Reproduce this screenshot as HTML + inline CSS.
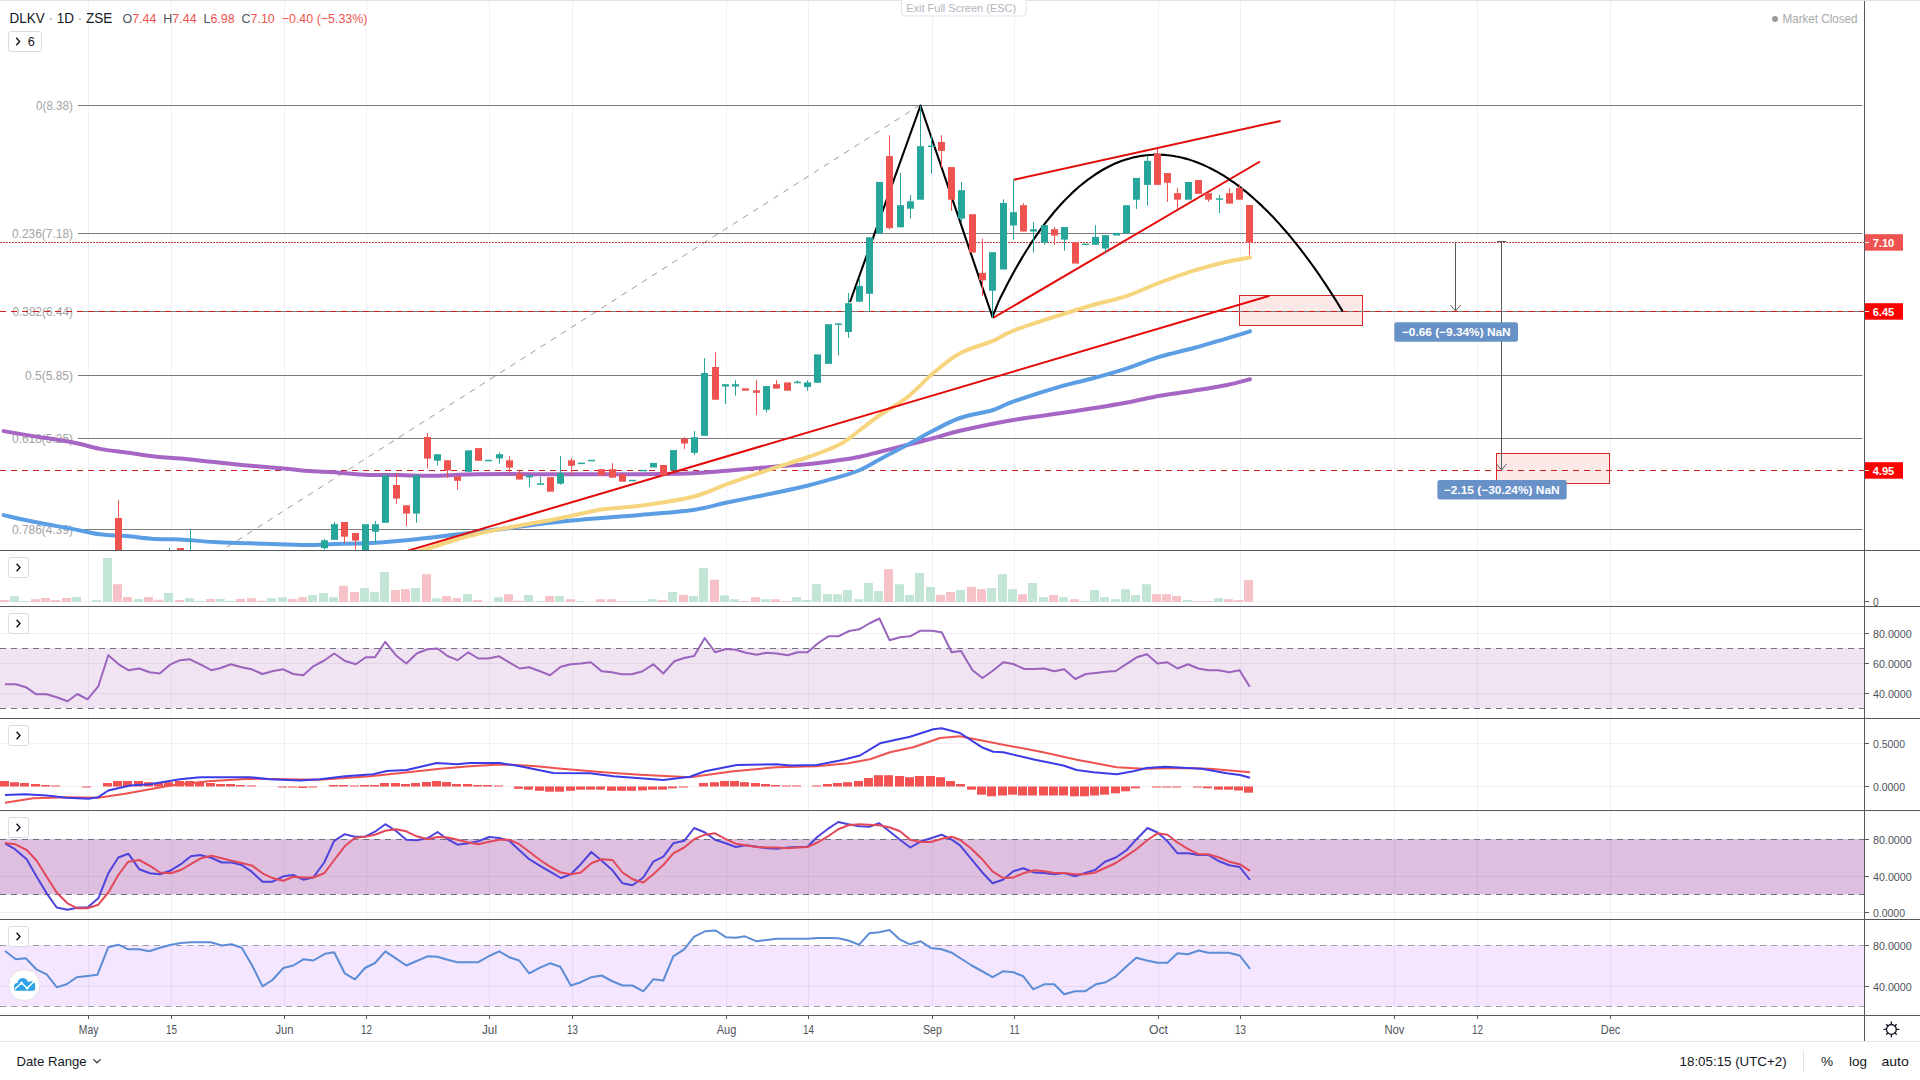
<!DOCTYPE html>
<html><head><meta charset="utf-8"><title>DLKV chart</title>
<style>html,body{margin:0;padding:0;background:#fff;width:1920px;height:1080px;overflow:hidden}</style>
</head><body>
<svg width="1920" height="1080" viewBox="0 0 1920 1080" style="display:block;font-family:'Liberation Sans', sans-serif">
<defs>
<clipPath id="cMain"><rect x="0" y="1" width="1864" height="549"/></clipPath>
</defs>
<rect x="0" y="0" width="1920" height="1080" fill="#fff"/>
<rect x="0" y="648" width="1864" height="60.5" fill="#f0e4f3"/>
<rect x="0" y="839" width="1864" height="55.5" fill="#dfbfdf"/>
<rect x="0" y="945" width="1864" height="61.5" fill="#f4e6fe"/>
<line x1="88.5" y1="1" x2="88.5" y2="1015" stroke="rgba(50,70,140,0.075)" stroke-width="1"/>
<line x1="171.5" y1="1" x2="171.5" y2="1015" stroke="rgba(50,70,140,0.075)" stroke-width="1"/>
<line x1="284.5" y1="1" x2="284.5" y2="1015" stroke="rgba(50,70,140,0.075)" stroke-width="1"/>
<line x1="366.5" y1="1" x2="366.5" y2="1015" stroke="rgba(50,70,140,0.075)" stroke-width="1"/>
<line x1="489.5" y1="1" x2="489.5" y2="1015" stroke="rgba(50,70,140,0.075)" stroke-width="1"/>
<line x1="572.5" y1="1" x2="572.5" y2="1015" stroke="rgba(50,70,140,0.075)" stroke-width="1"/>
<line x1="726.5" y1="1" x2="726.5" y2="1015" stroke="rgba(50,70,140,0.075)" stroke-width="1"/>
<line x1="808.5" y1="1" x2="808.5" y2="1015" stroke="rgba(50,70,140,0.075)" stroke-width="1"/>
<line x1="932.5" y1="1" x2="932.5" y2="1015" stroke="rgba(50,70,140,0.075)" stroke-width="1"/>
<line x1="1014.5" y1="1" x2="1014.5" y2="1015" stroke="rgba(50,70,140,0.075)" stroke-width="1"/>
<line x1="1158.5" y1="1" x2="1158.5" y2="1015" stroke="rgba(50,70,140,0.075)" stroke-width="1"/>
<line x1="1240.5" y1="1" x2="1240.5" y2="1015" stroke="rgba(50,70,140,0.075)" stroke-width="1"/>
<line x1="1394.5" y1="1" x2="1394.5" y2="1015" stroke="rgba(50,70,140,0.075)" stroke-width="1"/>
<line x1="1477.5" y1="1" x2="1477.5" y2="1015" stroke="rgba(50,70,140,0.075)" stroke-width="1"/>
<line x1="1610.5" y1="1" x2="1610.5" y2="1015" stroke="rgba(50,70,140,0.075)" stroke-width="1"/>
<line x1="0.0" y1="601.5" x2="1864.0" y2="601.5" stroke="rgba(42,46,57,0.07)" stroke-width="1.00"/>
<line x1="0.0" y1="633.5" x2="1864.0" y2="633.5" stroke="rgba(42,46,57,0.07)" stroke-width="1.00"/>
<line x1="0.0" y1="663.5" x2="1864.0" y2="663.5" stroke="rgba(42,46,57,0.07)" stroke-width="1.00"/>
<line x1="0.0" y1="693.5" x2="1864.0" y2="693.5" stroke="rgba(42,46,57,0.07)" stroke-width="1.00"/>
<line x1="0.0" y1="743.5" x2="1864.0" y2="743.5" stroke="rgba(42,46,57,0.07)" stroke-width="1.00"/>
<line x1="0.0" y1="786.5" x2="1864.0" y2="786.5" stroke="rgba(42,46,57,0.07)" stroke-width="1.00"/>
<line x1="0.0" y1="876.5" x2="1864.0" y2="876.5" stroke="rgba(42,46,57,0.07)" stroke-width="1.00"/>
<line x1="0.0" y1="912.5" x2="1864.0" y2="912.5" stroke="rgba(42,46,57,0.07)" stroke-width="1.00"/>
<line x1="0.0" y1="986.5" x2="1864.0" y2="986.5" stroke="rgba(42,46,57,0.07)" stroke-width="1.00"/>
<line x1="0.0" y1="648.5" x2="1864.0" y2="648.5" stroke="#6f7280" stroke-width="1.00" stroke-dasharray="6,5"/>
<line x1="0.0" y1="708.5" x2="1864.0" y2="708.5" stroke="#6f7280" stroke-width="1.00" stroke-dasharray="6,5"/>
<line x1="0.0" y1="839.5" x2="1864.0" y2="839.5" stroke="#6f7280" stroke-width="1.00" stroke-dasharray="6,5"/>
<line x1="0.0" y1="894.5" x2="1864.0" y2="894.5" stroke="#6f7280" stroke-width="1.00" stroke-dasharray="6,5"/>
<line x1="0.0" y1="945.5" x2="1864.0" y2="945.5" stroke="#9a9da6" stroke-width="1.00" stroke-dasharray="6,5"/>
<line x1="0.0" y1="1006.5" x2="1864.0" y2="1006.5" stroke="#9a9da6" stroke-width="1.00" stroke-dasharray="6,5"/>
<g clip-path="url(#cMain)">
<line x1="78.0" y1="105.5" x2="1862.5" y2="105.5" stroke="#7b7b7b" stroke-width="1.00"/>
<line x1="78.0" y1="233.5" x2="1862.5" y2="233.5" stroke="#7b7b7b" stroke-width="1.00"/>
<line x1="78.0" y1="311.5" x2="1862.5" y2="311.5" stroke="#7b7b7b" stroke-width="1.00"/>
<line x1="78.0" y1="375.5" x2="1862.5" y2="375.5" stroke="#7b7b7b" stroke-width="1.00"/>
<line x1="78.0" y1="438.5" x2="1862.5" y2="438.5" stroke="#7b7b7b" stroke-width="1.00"/>
<line x1="78.0" y1="529.5" x2="1862.5" y2="529.5" stroke="#7b7b7b" stroke-width="1.00"/>
<text x="36.0" y="110.0" font-size="12.0" fill="#a3a3a3" textLength="37.0" lengthAdjust="spacingAndGlyphs">0(8.38)</text>
<text x="12.0" y="238.0" font-size="12.0" fill="#a3a3a3" textLength="61.0" lengthAdjust="spacingAndGlyphs">0.236(7.18)</text>
<text x="12.5" y="316.0" font-size="12.0" fill="#a3a3a3" textLength="60.5" lengthAdjust="spacingAndGlyphs">0.382(6.44)</text>
<text x="25.0" y="380.0" font-size="12.0" fill="#a3a3a3" textLength="48.0" lengthAdjust="spacingAndGlyphs">0.5(5.85)</text>
<text x="12.0" y="443.0" font-size="12.0" fill="#a3a3a3" textLength="61.0" lengthAdjust="spacingAndGlyphs">0.618(5.25)</text>
<text x="12.0" y="534.0" font-size="12.0" fill="#a3a3a3" textLength="61.0" lengthAdjust="spacingAndGlyphs">0.786(4.39)</text>
<line x1="920" y1="105" x2="222" y2="550.3" stroke="#9a9a9a" stroke-width="1" stroke-dasharray="6,6"/>
<rect x="1239.5" y="295.5" width="123" height="30" fill="#fde8e8" stroke="#d42a2a" stroke-width="1"/>
<rect x="1496.5" y="453.5" width="113" height="30" fill="#fde8e8" stroke="#d42a2a" stroke-width="1"/>
<line x1="1239.0" y1="311.5" x2="1363.0" y2="311.5" stroke="#7b7b7b" stroke-width="1.00"/>
<line x1="0.0" y1="311.5" x2="1864.0" y2="311.5" stroke="#cf2020" stroke-width="1.00" stroke-dasharray="6,5"/>
<line x1="0.0" y1="470.5" x2="1864.0" y2="470.5" stroke="#cf2020" stroke-width="1.00" stroke-dasharray="6,5"/>
<line x1="0.0" y1="242.5" x2="1864.0" y2="242.5" stroke="#cc3c3c" stroke-width="1.00" stroke-dasharray="2,1"/>
<path d="M3.6,431.1 C8.0,431.9 18.6,433.7 30.0,435.6 C41.4,437.5 60.6,440.1 72.2,442.3 C83.9,444.5 90.9,447.2 99.9,448.9 C108.9,450.6 117.0,451.2 126.4,452.5 C135.8,453.8 147.4,455.7 156.4,456.7 C165.4,457.7 170.9,457.6 180.5,458.5 C190.1,459.4 202.5,460.9 214.1,462.1 C225.7,463.3 238.2,464.6 250.2,465.7 C262.2,466.8 276.3,467.8 286.3,468.7 C296.3,469.6 302.3,470.5 310.3,471.1 C318.3,471.7 325.4,471.7 334.4,472.3 C343.4,472.9 353.6,474.4 364.5,474.8 C375.4,475.2 389.1,474.8 400.0,475.0 C410.9,475.2 416.7,475.9 430.0,475.8 C443.3,475.7 458.3,474.5 480.0,474.2 C501.7,473.9 533.3,474.2 560.0,474.2 C586.7,474.2 617.8,474.3 640.0,474.2 C662.2,474.1 678.5,473.9 693.0,473.3 C707.5,472.7 713.7,471.9 727.0,470.8 C740.3,469.7 759.7,467.8 773.0,466.7 C786.3,465.6 795.8,465.3 807.0,464.2 C818.2,463.1 831.2,461.2 840.0,460.0 C848.8,458.8 853.3,458.1 860.0,456.7 C866.7,455.3 872.2,453.6 880.0,451.7 C887.8,449.8 898.2,447.2 907.0,445.0 C915.8,442.8 924.2,440.7 933.0,438.3 C941.8,435.9 946.7,433.9 960.0,430.8 C973.3,427.8 996.3,422.9 1013.0,420.0 C1029.7,417.1 1046.7,415.2 1060.0,413.3 C1073.3,411.4 1081.8,410.1 1093.0,408.3 C1104.2,406.5 1115.8,404.6 1127.0,402.5 C1138.2,400.4 1149.0,397.8 1160.0,395.8 C1171.0,393.9 1181.8,392.6 1193.0,390.8 C1204.2,389.0 1217.5,386.9 1227.0,385.0 C1236.5,383.1 1246.2,380.2 1250.0,379.2" fill="none" stroke="#a765c4" stroke-width="4" stroke-linejoin="round" stroke-linecap="round"/>
<path d="M3.6,515.1 C9.0,516.3 24.7,520.0 36.1,522.3 C47.5,524.6 61.6,526.9 72.2,528.9 C82.8,530.9 90.9,533.1 99.9,534.3 C108.9,535.5 117.0,535.3 126.4,536.1 C135.8,536.9 147.4,538.6 156.4,539.1 C165.4,539.6 170.9,538.9 180.5,539.4 C190.1,539.9 202.5,541.5 214.1,542.1 C225.7,542.8 238.2,542.9 250.2,543.3 C262.2,543.7 276.3,544.2 286.3,544.5 C296.3,544.8 302.3,545.2 310.3,545.1 C318.3,545.0 325.4,544.3 334.4,544.0 C343.4,543.7 353.6,543.8 364.5,543.3 C375.4,542.8 380.8,542.7 400.0,540.8 C419.2,538.9 453.3,534.9 480.0,531.7 C506.7,528.5 533.3,524.5 560.0,521.7 C586.7,518.9 617.8,517.0 640.0,515.0 C662.2,513.0 678.5,512.1 693.0,510.0 C707.5,507.9 713.7,505.3 727.0,502.5 C740.3,499.7 759.7,496.1 773.0,493.3 C786.3,490.5 795.8,488.6 807.0,485.8 C818.2,483.0 831.2,479.3 840.0,476.7 C848.8,474.1 853.3,472.9 860.0,470.0 C866.7,467.1 872.2,463.4 880.0,459.2 C887.8,455.0 898.2,449.7 907.0,445.0 C915.8,440.3 924.2,435.3 933.0,430.8 C941.8,426.3 950.0,421.5 960.0,418.0 C970.0,414.5 984.2,412.7 993.0,410.0 C1001.8,407.3 1001.8,405.6 1013.0,401.7 C1024.2,397.8 1046.7,390.6 1060.0,386.7 C1073.3,382.8 1081.8,381.4 1093.0,378.3 C1104.2,375.2 1115.8,371.9 1127.0,368.3 C1138.2,364.7 1149.0,360.0 1160.0,356.7 C1171.0,353.4 1181.8,351.4 1193.0,348.3 C1204.2,345.2 1217.5,341.1 1227.0,338.3 C1236.5,335.5 1246.2,332.5 1250.0,331.3" fill="none" stroke="#5b9ee3" stroke-width="4" stroke-linejoin="round" stroke-linecap="round"/>
<path d="M405.0,556.0 C408.1,555.0 410.8,553.8 423.3,550.0 C435.8,546.2 457.2,538.6 480.0,533.3 C502.8,528.0 540.0,522.2 560.0,518.3 C580.0,514.4 586.7,511.8 600.0,509.7 C613.3,507.6 624.5,508.0 640.0,505.8 C655.5,503.6 678.5,500.3 693.0,496.7 C707.5,493.1 713.7,488.9 727.0,484.2 C740.3,479.5 759.7,472.8 773.0,468.3 C786.3,463.9 795.8,461.5 807.0,457.5 C818.2,453.5 831.2,448.8 840.0,444.2 C848.8,439.6 853.3,434.9 860.0,430.0 C866.7,425.1 872.2,420.4 880.0,415.0 C887.8,409.6 898.2,404.4 907.0,397.5 C915.8,390.6 924.2,380.7 933.0,373.3 C941.8,365.9 950.0,358.7 960.0,353.3 C970.0,347.9 984.2,344.6 993.0,340.8 C1001.8,337.1 1001.8,335.1 1013.0,330.8 C1024.2,326.5 1046.7,319.3 1060.0,315.0 C1073.3,310.7 1081.8,308.2 1093.0,305.0 C1104.2,301.8 1115.8,299.6 1127.0,295.8 C1138.2,292.1 1149.0,286.7 1160.0,282.5 C1171.0,278.3 1181.8,274.3 1193.0,270.8 C1204.2,267.3 1217.5,263.9 1227.0,261.7 C1236.5,259.5 1246.2,258.2 1250.0,257.5" fill="none" stroke="#f7d57f" stroke-width="4" stroke-linejoin="round" stroke-linecap="round"/>
<line x1="380" y1="559" x2="1269.6" y2="295.8" stroke="#e30a0a" stroke-width="2"/>
<line x1="993" y1="318" x2="1260" y2="161.5" stroke="#e30a0a" stroke-width="2"/>
<line x1="1013.75" y1="179.8" x2="1280.6" y2="120.9" stroke="#e30a0a" stroke-width="2"/>
<polyline points="850,302 920.5,105.5 992.5,317" fill="none" stroke="#000" stroke-width="2.1" stroke-linejoin="round"/>
<path d="M992.5,317.0 C993.5,314.5 996.5,306.6 998.4,302.1 C1000.4,297.6 1002.4,293.9 1004.4,290.0 C1006.3,286.1 1008.3,282.3 1010.3,278.6 C1012.3,274.9 1014.2,271.3 1016.2,267.8 C1018.2,264.3 1020.2,260.9 1022.1,257.6 C1024.1,254.3 1026.1,251.1 1028.1,248.0 C1030.0,244.9 1032.0,241.8 1034.0,238.9 C1036.0,236.0 1037.9,233.2 1039.9,230.4 C1041.9,227.7 1043.9,225.0 1045.8,222.4 C1047.8,219.9 1049.8,217.4 1051.8,215.0 C1053.7,212.5 1055.7,210.2 1057.7,208.0 C1059.7,205.7 1061.6,203.6 1063.6,201.5 C1065.6,199.4 1067.6,197.4 1069.6,195.5 C1071.5,193.5 1073.5,191.7 1075.5,189.9 C1077.5,188.1 1079.4,186.4 1081.4,184.8 C1083.4,183.1 1085.4,181.6 1087.3,180.1 C1089.3,178.6 1091.3,177.2 1093.3,175.8 C1095.2,174.5 1097.2,173.2 1099.2,172.0 C1101.2,170.7 1103.1,169.6 1105.1,168.5 C1107.1,167.4 1109.1,166.4 1111.0,165.5 C1113.0,164.5 1115.0,163.6 1117.0,162.8 C1118.9,162.0 1120.9,161.2 1122.9,160.5 C1124.9,159.9 1126.8,159.2 1128.8,158.7 C1130.8,158.1 1132.8,157.6 1134.8,157.1 C1136.7,156.7 1138.7,156.3 1140.7,156.0 C1142.7,155.7 1144.6,155.4 1146.6,155.2 C1148.6,155.0 1150.6,154.8 1152.5,154.8 C1154.5,154.7 1156.5,154.6 1158.5,154.7 C1160.4,154.7 1162.4,154.8 1164.4,154.9 C1166.4,155.1 1168.3,155.3 1170.3,155.5 C1172.3,155.8 1174.3,156.1 1176.2,156.5 C1178.2,156.8 1180.2,157.3 1182.2,157.7 C1184.1,158.2 1186.1,158.8 1188.1,159.3 C1190.1,159.9 1192.0,160.6 1194.0,161.3 C1196.0,162.0 1198.0,162.7 1199.9,163.5 C1201.9,164.3 1203.9,165.2 1205.9,166.1 C1207.9,167.0 1209.8,168.0 1211.8,169.0 C1213.8,170.0 1215.8,171.1 1217.7,172.2 C1219.7,173.3 1221.7,174.5 1223.7,175.7 C1225.6,177.0 1227.6,178.2 1229.6,179.6 C1231.6,180.9 1233.5,182.3 1235.5,183.7 C1237.5,185.2 1239.5,186.6 1241.4,188.2 C1243.4,189.7 1245.4,191.3 1247.4,192.9 C1249.3,194.6 1251.3,196.3 1253.3,198.0 C1255.3,199.8 1257.2,201.6 1259.2,203.4 C1261.2,205.2 1263.2,207.1 1265.1,209.1 C1267.1,211.0 1269.1,213.0 1271.1,215.1 C1273.1,217.1 1275.0,219.2 1277.0,221.4 C1279.0,223.5 1281.0,225.7 1282.9,228.0 C1284.9,230.2 1286.9,232.5 1288.9,234.9 C1290.8,237.2 1292.8,239.6 1294.8,242.1 C1296.8,244.5 1298.7,247.0 1300.7,249.6 C1302.7,252.1 1304.7,254.7 1306.6,257.4 C1308.6,260.0 1310.6,262.7 1312.6,265.5 C1314.5,268.2 1316.5,271.0 1318.5,273.9 C1320.5,276.8 1322.4,279.7 1324.4,282.6 C1326.4,285.6 1328.4,288.6 1330.3,291.6 C1332.3,294.7 1334.3,297.8 1336.3,301.0 C1338.2,304.1 1341.2,309.0 1342.2,310.6" fill="none" stroke="#000" stroke-width="2.1" stroke-linecap="round"/>
<rect x="118.0" y="500.0" width="1" height="60.0" fill="#ef5350"/>
<rect x="115.0" y="518.0" width="7" height="42.0" fill="#ef5350"/>
<rect x="169.0" y="548.0" width="1" height="14.0" fill="#26a69a"/>
<rect x="166.0" y="560.0" width="7" height="2.0" fill="#26a69a"/>
<rect x="177.0" y="548.0" width="7" height="12.0" fill="#ef5350"/>
<rect x="190.0" y="529.7" width="1" height="32.3" fill="#26a69a"/>
<rect x="187.0" y="560.0" width="7" height="2.0" fill="#26a69a"/>
<rect x="324.0" y="538.7" width="1" height="10.9" fill="#26a69a"/>
<rect x="321.0" y="540.3" width="7" height="7.9" fill="#26a69a"/>
<rect x="334.0" y="521.8" width="1" height="18.1" fill="#26a69a"/>
<rect x="331.0" y="524.2" width="7" height="15.7" fill="#26a69a"/>
<rect x="344.0" y="522.0" width="1" height="21.3" fill="#ef5350"/>
<rect x="341.0" y="522.0" width="7" height="14.7" fill="#ef5350"/>
<rect x="355.0" y="533.0" width="1" height="16.6" fill="#ef5350"/>
<rect x="352.0" y="533.0" width="7" height="7.6" fill="#ef5350"/>
<rect x="362.0" y="524.2" width="7" height="35.8" fill="#26a69a"/>
<rect x="375.0" y="521.0" width="1" height="22.3" fill="#26a69a"/>
<rect x="372.0" y="524.2" width="7" height="7.5" fill="#26a69a"/>
<rect x="382.0" y="475.3" width="7" height="47.5" fill="#26a69a"/>
<rect x="396.0" y="473.2" width="1" height="30.6" fill="#ef5350"/>
<rect x="393.0" y="485.0" width="7" height="13.6" fill="#ef5350"/>
<rect x="406.0" y="505.3" width="1" height="20.7" fill="#ef5350"/>
<rect x="403.0" y="505.3" width="7" height="8.3" fill="#ef5350"/>
<rect x="416.0" y="475.3" width="1" height="47.5" fill="#26a69a"/>
<rect x="413.0" y="475.3" width="7" height="38.3" fill="#26a69a"/>
<rect x="427.0" y="433.0" width="1" height="35.3" fill="#ef5350"/>
<rect x="424.0" y="437.0" width="7" height="21.6" fill="#ef5350"/>
<rect x="437.0" y="454.2" width="1" height="11.4" fill="#26a69a"/>
<rect x="434.0" y="454.2" width="7" height="6.5" fill="#26a69a"/>
<rect x="447.0" y="460.3" width="1" height="17.5" fill="#ef5350"/>
<rect x="444.0" y="460.3" width="7" height="10.1" fill="#ef5350"/>
<rect x="457.0" y="476.4" width="1" height="13.5" fill="#ef5350"/>
<rect x="454.0" y="476.4" width="7" height="4.4" fill="#ef5350"/>
<rect x="465.0" y="450.3" width="7" height="21.5" fill="#26a69a"/>
<rect x="475.0" y="448.1" width="7" height="12.7" fill="#ef5350"/>
<rect x="485.0" y="459.8" width="7" height="1.5" fill="#26a69a"/>
<rect x="499.0" y="452.3" width="1" height="11.3" fill="#26a69a"/>
<rect x="496.0" y="454.2" width="7" height="4.2" fill="#26a69a"/>
<rect x="509.0" y="456.1" width="1" height="16.9" fill="#ef5350"/>
<rect x="506.0" y="460.3" width="7" height="7.3" fill="#ef5350"/>
<rect x="519.0" y="470.6" width="1" height="8.9" fill="#ef5350"/>
<rect x="516.0" y="473.4" width="7" height="6.1" fill="#ef5350"/>
<rect x="529.0" y="475.3" width="1" height="11.7" fill="#26a69a"/>
<rect x="526.0" y="475.3" width="7" height="2.1" fill="#26a69a"/>
<rect x="540.0" y="476.7" width="1" height="8.0" fill="#26a69a"/>
<rect x="537.0" y="483.3" width="7" height="1.5" fill="#26a69a"/>
<rect x="547.0" y="477.2" width="7" height="14.5" fill="#ef5350"/>
<rect x="560.0" y="456.1" width="1" height="28.6" fill="#26a69a"/>
<rect x="557.0" y="473.0" width="7" height="10.7" fill="#26a69a"/>
<rect x="571.0" y="458.0" width="1" height="17.3" fill="#ef5350"/>
<rect x="568.0" y="460.3" width="7" height="5.4" fill="#ef5350"/>
<rect x="578.0" y="462.6" width="7" height="1.5" fill="#26a69a"/>
<rect x="588.0" y="459.8" width="7" height="1.5" fill="#26a69a"/>
<rect x="598.0" y="469.2" width="7" height="6.3" fill="#ef5350"/>
<rect x="612.0" y="463.1" width="1" height="14.6" fill="#ef5350"/>
<rect x="609.0" y="469.2" width="7" height="8.5" fill="#ef5350"/>
<rect x="619.0" y="474.2" width="7" height="7.5" fill="#ef5350"/>
<rect x="629.0" y="479.8" width="7" height="1.5" fill="#26a69a"/>
<rect x="640.0" y="469.8" width="7" height="1.5" fill="#26a69a"/>
<rect x="650.0" y="462.9" width="7" height="4.6" fill="#26a69a"/>
<rect x="660.0" y="465.0" width="7" height="10.4" fill="#ef5350"/>
<rect x="670.0" y="450.1" width="7" height="20.2" fill="#26a69a"/>
<rect x="684.0" y="437.2" width="1" height="11.8" fill="#ef5350"/>
<rect x="681.0" y="438.6" width="7" height="4.9" fill="#ef5350"/>
<rect x="694.0" y="431.0" width="1" height="24.0" fill="#26a69a"/>
<rect x="691.0" y="437.2" width="7" height="15.6" fill="#26a69a"/>
<rect x="704.0" y="358.0" width="1" height="77.8" fill="#26a69a"/>
<rect x="701.0" y="373.0" width="7" height="62.8" fill="#26a69a"/>
<rect x="715.0" y="352.2" width="1" height="47.5" fill="#ef5350"/>
<rect x="712.0" y="367.0" width="7" height="32.7" fill="#ef5350"/>
<rect x="725.0" y="384.2" width="1" height="19.8" fill="#26a69a"/>
<rect x="722.0" y="384.2" width="7" height="2.3" fill="#26a69a"/>
<rect x="735.0" y="380.3" width="1" height="15.3" fill="#26a69a"/>
<rect x="732.0" y="384.2" width="7" height="2.3" fill="#26a69a"/>
<rect x="742.0" y="388.3" width="7" height="2.4" fill="#ef5350"/>
<rect x="756.0" y="380.3" width="1" height="34.7" fill="#ef5350"/>
<rect x="753.0" y="390.3" width="7" height="2.5" fill="#ef5350"/>
<rect x="766.0" y="386.1" width="1" height="26.4" fill="#26a69a"/>
<rect x="763.0" y="386.1" width="7" height="23.6" fill="#26a69a"/>
<rect x="776.0" y="380.3" width="1" height="8.3" fill="#ef5350"/>
<rect x="773.0" y="384.2" width="7" height="4.4" fill="#ef5350"/>
<rect x="784.0" y="382.4" width="7" height="8.3" fill="#ef5350"/>
<rect x="797.0" y="380.3" width="1" height="2.8" fill="#26a69a"/>
<rect x="794.0" y="381.7" width="7" height="1.5" fill="#26a69a"/>
<rect x="807.0" y="380.3" width="1" height="10.4" fill="#26a69a"/>
<rect x="804.0" y="382.4" width="7" height="4.6" fill="#26a69a"/>
<rect x="814.0" y="354.4" width="7" height="28.4" fill="#26a69a"/>
<rect x="825.0" y="324.2" width="7" height="39.7" fill="#26a69a"/>
<rect x="838.0" y="323.5" width="1" height="31.7" fill="#26a69a"/>
<rect x="835.0" y="323.5" width="7" height="1.5" fill="#26a69a"/>
<rect x="848.0" y="293.0" width="1" height="44.9" fill="#26a69a"/>
<rect x="845.0" y="303.2" width="7" height="28.8" fill="#26a69a"/>
<rect x="859.0" y="278.8" width="1" height="22.9" fill="#26a69a"/>
<rect x="856.0" y="285.9" width="7" height="15.8" fill="#26a69a"/>
<rect x="869.0" y="237.3" width="1" height="74.6" fill="#26a69a"/>
<rect x="866.0" y="237.3" width="7" height="56.5" fill="#26a69a"/>
<rect x="876.0" y="181.9" width="7" height="51.7" fill="#26a69a"/>
<rect x="889.0" y="135.2" width="1" height="94.4" fill="#ef5350"/>
<rect x="886.0" y="156.1" width="7" height="72.0" fill="#ef5350"/>
<rect x="900.0" y="173.0" width="1" height="54.3" fill="#26a69a"/>
<rect x="897.0" y="205.2" width="7" height="22.1" fill="#26a69a"/>
<rect x="910.0" y="195.0" width="1" height="23.6" fill="#26a69a"/>
<rect x="907.0" y="201.3" width="7" height="7.4" fill="#26a69a"/>
<rect x="920.0" y="105.7" width="1" height="94.0" fill="#26a69a"/>
<rect x="917.0" y="146.2" width="7" height="53.5" fill="#26a69a"/>
<rect x="931.0" y="135.2" width="1" height="38.5" fill="#26a69a"/>
<rect x="928.0" y="145.5" width="7" height="1.5" fill="#26a69a"/>
<rect x="941.0" y="135.2" width="1" height="32.2" fill="#ef5350"/>
<rect x="938.0" y="141.9" width="7" height="9.0" fill="#ef5350"/>
<rect x="951.0" y="167.1" width="1" height="43.6" fill="#ef5350"/>
<rect x="948.0" y="167.1" width="7" height="32.6" fill="#ef5350"/>
<rect x="961.0" y="182.0" width="1" height="40.6" fill="#26a69a"/>
<rect x="958.0" y="190.2" width="7" height="28.4" fill="#26a69a"/>
<rect x="969.0" y="214.2" width="7" height="38.4" fill="#ef5350"/>
<rect x="982.0" y="238.9" width="1" height="57.0" fill="#ef5350"/>
<rect x="979.0" y="272.9" width="7" height="7.4" fill="#ef5350"/>
<rect x="992.0" y="252.2" width="1" height="65.9" fill="#26a69a"/>
<rect x="989.0" y="252.2" width="7" height="38.5" fill="#26a69a"/>
<rect x="1003.0" y="199.3" width="1" height="70.2" fill="#26a69a"/>
<rect x="1000.0" y="202.9" width="7" height="66.6" fill="#26a69a"/>
<rect x="1013.0" y="179.6" width="1" height="60.0" fill="#26a69a"/>
<rect x="1010.0" y="212.2" width="7" height="13.3" fill="#26a69a"/>
<rect x="1023.0" y="203.3" width="1" height="28.2" fill="#ef5350"/>
<rect x="1020.0" y="205.2" width="7" height="26.3" fill="#ef5350"/>
<rect x="1033.0" y="222.1" width="1" height="30.5" fill="#26a69a"/>
<rect x="1030.0" y="229.2" width="7" height="2.3" fill="#26a69a"/>
<rect x="1044.0" y="225.1" width="1" height="19.7" fill="#26a69a"/>
<rect x="1041.0" y="225.1" width="7" height="17.5" fill="#26a69a"/>
<rect x="1054.0" y="227.0" width="1" height="17.8" fill="#ef5350"/>
<rect x="1051.0" y="229.2" width="7" height="6.3" fill="#ef5350"/>
<rect x="1064.0" y="227.0" width="1" height="23.7" fill="#26a69a"/>
<rect x="1061.0" y="227.0" width="7" height="12.6" fill="#26a69a"/>
<rect x="1072.0" y="242.3" width="7" height="21.3" fill="#ef5350"/>
<rect x="1082.0" y="243.6" width="7" height="1.5" fill="#26a69a"/>
<rect x="1095.0" y="225.1" width="1" height="19.7" fill="#26a69a"/>
<rect x="1092.0" y="236.9" width="7" height="7.9" fill="#26a69a"/>
<rect x="1105.0" y="235.2" width="1" height="17.0" fill="#26a69a"/>
<rect x="1102.0" y="235.2" width="7" height="13.3" fill="#26a69a"/>
<rect x="1113.0" y="232.9" width="7" height="2.6" fill="#26a69a"/>
<rect x="1123.0" y="205.2" width="7" height="28.2" fill="#26a69a"/>
<rect x="1136.0" y="177.9" width="1" height="31.0" fill="#26a69a"/>
<rect x="1133.0" y="177.9" width="7" height="21.8" fill="#26a69a"/>
<rect x="1147.0" y="155.7" width="1" height="50.0" fill="#26a69a"/>
<rect x="1144.0" y="160.8" width="7" height="24.1" fill="#26a69a"/>
<rect x="1157.0" y="148.8" width="1" height="36.2" fill="#ef5350"/>
<rect x="1154.0" y="153.6" width="7" height="31.3" fill="#ef5350"/>
<rect x="1167.0" y="173.0" width="1" height="29.0" fill="#ef5350"/>
<rect x="1164.0" y="173.0" width="7" height="9.8" fill="#ef5350"/>
<rect x="1177.0" y="188.3" width="1" height="20.9" fill="#ef5350"/>
<rect x="1174.0" y="193.2" width="7" height="6.5" fill="#ef5350"/>
<rect x="1185.0" y="182.0" width="7" height="17.7" fill="#26a69a"/>
<rect x="1195.0" y="180.0" width="7" height="13.9" fill="#ef5350"/>
<rect x="1208.0" y="193.2" width="1" height="8.8" fill="#ef5350"/>
<rect x="1205.0" y="193.2" width="7" height="6.5" fill="#ef5350"/>
<rect x="1219.0" y="195.0" width="1" height="18.0" fill="#26a69a"/>
<rect x="1216.0" y="198.3" width="7" height="1.5" fill="#26a69a"/>
<rect x="1229.0" y="188.3" width="1" height="15.3" fill="#ef5350"/>
<rect x="1226.0" y="193.2" width="7" height="10.4" fill="#ef5350"/>
<rect x="1239.0" y="184.4" width="1" height="15.3" fill="#ef5350"/>
<rect x="1236.0" y="188.0" width="7" height="11.7" fill="#ef5350"/>
<rect x="1249.0" y="205.0" width="1" height="50.0" fill="#ef5350"/>
<rect x="1246.0" y="205.0" width="7" height="37.5" fill="#ef5350"/>
<line x1="1455.5" y1="241.7" x2="1455.5" y2="310.5" stroke="#5a5a5a" stroke-width="1"/>
<polyline points="1450.5,305 1455.5,311 1460.5,305" fill="none" stroke="#5a5a5a" stroke-width="1"/>
<line x1="1501.5" y1="241.7" x2="1501.5" y2="469.5" stroke="#5a5a5a" stroke-width="1"/>
<line x1="1497" y1="241.5" x2="1506" y2="241.5" stroke="#5a5a5a" stroke-width="1"/>
<polyline points="1496.5,464 1501.5,470 1506.5,464" fill="none" stroke="#5a5a5a" stroke-width="1"/>
</g>
<rect x="1394.3" y="322.2" width="123.7" height="19.5" rx="2.5" fill="#6891c8"/>
<text x="1401.9" y="335.8" font-size="11.0" fill="#fff" textLength="108.7" lengthAdjust="spacingAndGlyphs" font-weight="bold">−0.66 (−9.34%) NaN</text>
<rect x="1437.4" y="480" width="129.3" height="19.5" rx="2.5" fill="#6891c8"/>
<text x="1443.9" y="493.6" font-size="11.0" fill="#fff" textLength="115.7" lengthAdjust="spacingAndGlyphs" font-weight="bold">−2.15 (−30.24%) NaN</text>
<rect x="0.0" y="600.0" width="9" height="2.0" fill="#f6c2c7"/>
<rect x="10.0" y="596.2" width="9" height="5.8" fill="#c2e5d6"/>
<rect x="20.0" y="601.0" width="9" height="1.0" fill="#c2e5d6"/>
<rect x="31.0" y="599.2" width="9" height="2.8" fill="#f6c2c7"/>
<rect x="41.0" y="598.0" width="9" height="4.0" fill="#f6c2c7"/>
<rect x="51.0" y="600.0" width="9" height="2.0" fill="#f6c2c7"/>
<rect x="62.0" y="598.0" width="9" height="4.0" fill="#f6c2c7"/>
<rect x="72.0" y="597.0" width="9" height="5.0" fill="#c2e5d6"/>
<rect x="92.0" y="600.0" width="9" height="2.0" fill="#c2e5d6"/>
<rect x="103.0" y="558.0" width="9" height="44.0" fill="#c2e5d6"/>
<rect x="113.0" y="584.2" width="9" height="17.8" fill="#f6c2c7"/>
<rect x="123.0" y="597.0" width="9" height="5.0" fill="#f6c2c7"/>
<rect x="134.0" y="599.0" width="9" height="3.0" fill="#c2e5d6"/>
<rect x="144.0" y="597.0" width="9" height="5.0" fill="#f6c2c7"/>
<rect x="154.0" y="599.7" width="9" height="2.3" fill="#f6c2c7"/>
<rect x="164.0" y="593.0" width="9" height="9.0" fill="#c2e5d6"/>
<rect x="175.0" y="600.0" width="9" height="2.0" fill="#f6c2c7"/>
<rect x="185.0" y="598.2" width="9" height="3.8" fill="#c2e5d6"/>
<rect x="195.0" y="600.8" width="9" height="1.2" fill="#c2e5d6"/>
<rect x="206.0" y="599.0" width="9" height="3.0" fill="#f6c2c7"/>
<rect x="216.0" y="599.0" width="9" height="3.0" fill="#c2e5d6"/>
<rect x="226.0" y="600.8" width="9" height="1.2" fill="#c2e5d6"/>
<rect x="236.0" y="599.0" width="9" height="3.0" fill="#f6c2c7"/>
<rect x="247.0" y="598.2" width="9" height="3.8" fill="#f6c2c7"/>
<rect x="257.0" y="600.8" width="9" height="1.2" fill="#f6c2c7"/>
<rect x="267.0" y="598.2" width="9" height="3.8" fill="#c2e5d6"/>
<rect x="278.0" y="597.2" width="9" height="4.8" fill="#c2e5d6"/>
<rect x="288.0" y="599.0" width="9" height="3.0" fill="#f6c2c7"/>
<rect x="298.0" y="597.2" width="9" height="4.8" fill="#f6c2c7"/>
<rect x="308.0" y="595.0" width="9" height="7.0" fill="#c2e5d6"/>
<rect x="319.0" y="593.0" width="9" height="9.0" fill="#c2e5d6"/>
<rect x="329.0" y="597.2" width="9" height="4.8" fill="#c2e5d6"/>
<rect x="339.0" y="585.8" width="9" height="16.2" fill="#f6c2c7"/>
<rect x="350.0" y="592.0" width="9" height="10.0" fill="#f6c2c7"/>
<rect x="360.0" y="588.0" width="9" height="14.0" fill="#c2e5d6"/>
<rect x="370.0" y="592.0" width="9" height="10.0" fill="#c2e5d6"/>
<rect x="380.0" y="572.0" width="9" height="30.0" fill="#c2e5d6"/>
<rect x="391.0" y="590.0" width="9" height="12.0" fill="#f6c2c7"/>
<rect x="401.0" y="589.2" width="9" height="12.8" fill="#f6c2c7"/>
<rect x="411.0" y="588.0" width="9" height="14.0" fill="#c2e5d6"/>
<rect x="422.0" y="574.2" width="9" height="27.8" fill="#f6c2c7"/>
<rect x="432.0" y="598.2" width="9" height="3.8" fill="#c2e5d6"/>
<rect x="442.0" y="596.0" width="9" height="6.0" fill="#f6c2c7"/>
<rect x="452.0" y="598.2" width="9" height="3.8" fill="#f6c2c7"/>
<rect x="463.0" y="594.2" width="9" height="7.8" fill="#c2e5d6"/>
<rect x="473.0" y="600.0" width="9" height="2.0" fill="#f6c2c7"/>
<rect x="494.0" y="597.2" width="9" height="4.8" fill="#c2e5d6"/>
<rect x="504.0" y="594.2" width="9" height="7.8" fill="#f6c2c7"/>
<rect x="514.0" y="600.8" width="9" height="1.2" fill="#f6c2c7"/>
<rect x="524.0" y="595.0" width="9" height="7.0" fill="#c2e5d6"/>
<rect x="535.0" y="601.0" width="9" height="1.0" fill="#c2e5d6"/>
<rect x="545.0" y="596.0" width="9" height="6.0" fill="#f6c2c7"/>
<rect x="555.0" y="596.0" width="9" height="6.0" fill="#c2e5d6"/>
<rect x="566.0" y="599.2" width="9" height="2.8" fill="#f6c2c7"/>
<rect x="576.0" y="601.0" width="9" height="1.0" fill="#c2e5d6"/>
<rect x="596.0" y="599.2" width="9" height="2.8" fill="#f6c2c7"/>
<rect x="607.0" y="599.2" width="9" height="2.8" fill="#f6c2c7"/>
<rect x="617.0" y="601.0" width="9" height="1.0" fill="#f6c2c7"/>
<rect x="627.0" y="601.0" width="9" height="1.0" fill="#c2e5d6"/>
<rect x="638.0" y="601.0" width="9" height="1.0" fill="#c2e5d6"/>
<rect x="648.0" y="599.2" width="9" height="2.8" fill="#c2e5d6"/>
<rect x="658.0" y="600.0" width="9" height="2.0" fill="#f6c2c7"/>
<rect x="668.0" y="592.0" width="9" height="10.0" fill="#c2e5d6"/>
<rect x="679.0" y="595.0" width="9" height="7.0" fill="#f6c2c7"/>
<rect x="689.0" y="596.0" width="9" height="6.0" fill="#c2e5d6"/>
<rect x="699.0" y="568.0" width="9" height="34.0" fill="#c2e5d6"/>
<rect x="710.0" y="579.7" width="9" height="22.3" fill="#f6c2c7"/>
<rect x="720.0" y="595.3" width="9" height="6.7" fill="#c2e5d6"/>
<rect x="730.0" y="599.2" width="9" height="2.8" fill="#c2e5d6"/>
<rect x="740.0" y="601.0" width="9" height="1.0" fill="#f6c2c7"/>
<rect x="751.0" y="597.2" width="9" height="4.8" fill="#f6c2c7"/>
<rect x="761.0" y="599.2" width="9" height="2.8" fill="#c2e5d6"/>
<rect x="771.0" y="599.2" width="9" height="2.8" fill="#f6c2c7"/>
<rect x="782.0" y="601.0" width="9" height="1.0" fill="#f6c2c7"/>
<rect x="792.0" y="597.2" width="9" height="4.8" fill="#c2e5d6"/>
<rect x="802.0" y="600.0" width="9" height="2.0" fill="#c2e5d6"/>
<rect x="812.0" y="584.2" width="9" height="17.8" fill="#c2e5d6"/>
<rect x="823.0" y="594.2" width="9" height="7.8" fill="#c2e5d6"/>
<rect x="833.0" y="594.2" width="9" height="7.8" fill="#c2e5d6"/>
<rect x="843.0" y="590.0" width="9" height="12.0" fill="#c2e5d6"/>
<rect x="854.0" y="599.2" width="9" height="2.8" fill="#c2e5d6"/>
<rect x="864.0" y="583.0" width="9" height="19.0" fill="#c2e5d6"/>
<rect x="874.0" y="591.0" width="9" height="11.0" fill="#c2e5d6"/>
<rect x="884.0" y="569.2" width="9" height="32.8" fill="#f6c2c7"/>
<rect x="895.0" y="584.2" width="9" height="17.8" fill="#c2e5d6"/>
<rect x="905.0" y="595.0" width="9" height="7.0" fill="#c2e5d6"/>
<rect x="915.0" y="573.0" width="9" height="29.0" fill="#c2e5d6"/>
<rect x="926.0" y="587.0" width="9" height="15.0" fill="#c2e5d6"/>
<rect x="936.0" y="595.0" width="9" height="7.0" fill="#f6c2c7"/>
<rect x="946.0" y="592.0" width="9" height="10.0" fill="#f6c2c7"/>
<rect x="956.0" y="590.0" width="9" height="12.0" fill="#c2e5d6"/>
<rect x="967.0" y="587.0" width="9" height="15.0" fill="#f6c2c7"/>
<rect x="977.0" y="589.2" width="9" height="12.8" fill="#f6c2c7"/>
<rect x="987.0" y="588.0" width="9" height="14.0" fill="#c2e5d6"/>
<rect x="998.0" y="574.2" width="9" height="27.8" fill="#c2e5d6"/>
<rect x="1008.0" y="589.2" width="9" height="12.8" fill="#c2e5d6"/>
<rect x="1018.0" y="594.2" width="9" height="7.8" fill="#f6c2c7"/>
<rect x="1028.0" y="583.0" width="9" height="19.0" fill="#c2e5d6"/>
<rect x="1039.0" y="597.2" width="9" height="4.8" fill="#c2e5d6"/>
<rect x="1049.0" y="595.0" width="9" height="7.0" fill="#f6c2c7"/>
<rect x="1059.0" y="597.2" width="9" height="4.8" fill="#c2e5d6"/>
<rect x="1070.0" y="599.2" width="9" height="2.8" fill="#f6c2c7"/>
<rect x="1080.0" y="601.0" width="9" height="1.0" fill="#c2e5d6"/>
<rect x="1090.0" y="590.0" width="9" height="12.0" fill="#c2e5d6"/>
<rect x="1100.0" y="597.2" width="9" height="4.8" fill="#c2e5d6"/>
<rect x="1111.0" y="599.2" width="9" height="2.8" fill="#c2e5d6"/>
<rect x="1121.0" y="589.2" width="9" height="12.8" fill="#c2e5d6"/>
<rect x="1131.0" y="595.0" width="9" height="7.0" fill="#c2e5d6"/>
<rect x="1142.0" y="584.2" width="9" height="17.8" fill="#c2e5d6"/>
<rect x="1152.0" y="594.2" width="9" height="7.8" fill="#f6c2c7"/>
<rect x="1162.0" y="594.2" width="9" height="7.8" fill="#f6c2c7"/>
<rect x="1172.0" y="596.0" width="9" height="6.0" fill="#f6c2c7"/>
<rect x="1183.0" y="600.0" width="9" height="2.0" fill="#c2e5d6"/>
<rect x="1193.0" y="601.0" width="9" height="1.0" fill="#f6c2c7"/>
<rect x="1203.0" y="601.0" width="9" height="1.0" fill="#f6c2c7"/>
<rect x="1214.0" y="598.2" width="9" height="3.8" fill="#c2e5d6"/>
<rect x="1224.0" y="599.2" width="9" height="2.8" fill="#f6c2c7"/>
<rect x="1234.0" y="600.0" width="9" height="2.0" fill="#f6c2c7"/>
<rect x="1244.0" y="580.0" width="9" height="22.0" fill="#f6c2c7"/>
<polyline points="5.0,684.3 15.8,684.3 25.8,687.2 36.3,694.3 46.7,694.3 56.7,697.3 67.5,701.3 77.5,694.0 87.5,699.3 98.3,686.3 108.3,655.2 118.7,664.3 128.3,670.2 139.2,668.5 149.7,672.3 159.7,673.5 170.0,664.7 180.0,660.2 190.0,659.3 200.8,664.7 211.3,670.2 220.8,668.0 230.8,664.3 241.7,667.2 251.7,669.3 262.5,674.0 273.3,671.0 283.3,669.3 293.3,674.0 303.3,675.2 313.3,666.3 324.2,660.5 334.2,653.5 345.0,661.0 355.8,664.3 365.8,657.3 375.0,657.3 385.3,641.8 395.8,655.2 406.3,663.5 416.7,653.5 427.5,649.3 437.5,648.5 447.5,656.0 457.5,660.2 468.3,652.3 478.3,658.5 488.3,658.5 499.2,656.3 509.2,662.3 519.7,668.5 529.2,667.3 540.0,671.3 550.0,675.2 560.8,666.8 570.8,664.3 580.8,663.5 590.8,662.3 601.7,671.3 611.7,672.3 621.7,674.3 631.7,674.3 642.0,671.5 653.3,664.3 663.3,673.5 674.2,661.3 684.2,658.0 694.2,656.0 704.7,638.0 715.3,652.3 725.8,649.0 735.8,649.7 745.8,652.7 756.7,654.7 766.7,652.7 776.7,653.5 787.5,655.2 798.0,652.3 807.5,652.3 818.3,643.0 828.3,636.3 838.3,636.3 849.2,631.0 859.2,629.3 869.2,623.5 879.5,618.5 889.5,640.2 900.0,637.3 910.0,636.3 920.5,630.7 931.7,630.7 941.7,632.3 951.7,652.3 961.0,651.0 972.5,670.2 982.5,678.0 992.5,671.0 1003.3,662.3 1013.3,664.0 1024.2,669.0 1034.2,669.0 1044.2,668.5 1054.2,671.3 1064.2,669.3 1075.3,679.0 1085.8,674.0 1095.8,673.0 1105.8,671.8 1115.8,671.0 1125.8,664.3 1136.7,657.3 1147.0,654.3 1157.5,663.5 1167.5,662.3 1177.5,668.5 1188.0,664.3 1198.3,668.5 1208.3,670.2 1218.3,670.2 1229.2,672.3 1239.5,670.2 1249.7,686.8" fill="none" stroke="#9a64bc" stroke-width="2" stroke-linejoin="round"/>
<rect x="0.0" y="781.0" width="9" height="5.5" fill="#f25252"/>
<rect x="10.0" y="782.2" width="9" height="4.3" fill="#f25252"/>
<rect x="20.0" y="783.0" width="9" height="3.5" fill="#f25252"/>
<rect x="31.0" y="784.0" width="9" height="2.5" fill="#f25252"/>
<rect x="41.0" y="785.0" width="9" height="1.5" fill="#f25252"/>
<rect x="51.0" y="785.5" width="9" height="1.0" fill="#f25252"/>
<rect x="82.0" y="786.5" width="9" height="1.0" fill="#f25252"/>
<rect x="103.0" y="783.0" width="9" height="3.5" fill="#f25252"/>
<rect x="113.0" y="781.0" width="9" height="5.5" fill="#f25252"/>
<rect x="123.0" y="781.0" width="9" height="5.5" fill="#f25252"/>
<rect x="134.0" y="781.0" width="9" height="5.5" fill="#f25252"/>
<rect x="144.0" y="782.2" width="9" height="4.3" fill="#f25252"/>
<rect x="154.0" y="783.0" width="9" height="3.5" fill="#f25252"/>
<rect x="164.0" y="782.2" width="9" height="4.3" fill="#f25252"/>
<rect x="175.0" y="781.0" width="9" height="5.5" fill="#f25252"/>
<rect x="185.0" y="781.0" width="9" height="5.5" fill="#f25252"/>
<rect x="195.0" y="782.2" width="9" height="4.3" fill="#f25252"/>
<rect x="206.0" y="783.0" width="9" height="3.5" fill="#f25252"/>
<rect x="216.0" y="784.0" width="9" height="2.5" fill="#f25252"/>
<rect x="226.0" y="784.0" width="9" height="2.5" fill="#f25252"/>
<rect x="236.0" y="785.0" width="9" height="1.5" fill="#f25252"/>
<rect x="247.0" y="785.5" width="9" height="1.0" fill="#f25252"/>
<rect x="278.0" y="786.5" width="9" height="1.0" fill="#f25252"/>
<rect x="288.0" y="786.5" width="9" height="1.0" fill="#f25252"/>
<rect x="298.0" y="786.5" width="9" height="1.5" fill="#f25252"/>
<rect x="308.0" y="786.5" width="9" height="1.0" fill="#f25252"/>
<rect x="329.0" y="785.0" width="9" height="1.5" fill="#f25252"/>
<rect x="339.0" y="785.0" width="9" height="1.5" fill="#f25252"/>
<rect x="350.0" y="785.5" width="9" height="1.0" fill="#f25252"/>
<rect x="360.0" y="785.0" width="9" height="1.5" fill="#f25252"/>
<rect x="370.0" y="785.0" width="9" height="1.5" fill="#f25252"/>
<rect x="380.0" y="783.0" width="9" height="3.5" fill="#f25252"/>
<rect x="391.0" y="783.0" width="9" height="3.5" fill="#f25252"/>
<rect x="401.0" y="784.0" width="9" height="2.5" fill="#f25252"/>
<rect x="411.0" y="783.0" width="9" height="3.5" fill="#f25252"/>
<rect x="422.0" y="782.0" width="9" height="4.5" fill="#f25252"/>
<rect x="432.0" y="781.0" width="9" height="5.5" fill="#f25252"/>
<rect x="442.0" y="782.0" width="9" height="4.5" fill="#f25252"/>
<rect x="452.0" y="784.0" width="9" height="2.5" fill="#f25252"/>
<rect x="463.0" y="784.0" width="9" height="2.5" fill="#f25252"/>
<rect x="473.0" y="785.0" width="9" height="1.5" fill="#f25252"/>
<rect x="483.0" y="785.0" width="9" height="1.5" fill="#f25252"/>
<rect x="494.0" y="785.5" width="9" height="1.0" fill="#f25252"/>
<rect x="514.0" y="786.5" width="9" height="2.3" fill="#f25252"/>
<rect x="524.0" y="786.5" width="9" height="3.2" fill="#f25252"/>
<rect x="535.0" y="786.5" width="9" height="4.3" fill="#f25252"/>
<rect x="545.0" y="786.5" width="9" height="5.2" fill="#f25252"/>
<rect x="555.0" y="786.5" width="9" height="5.2" fill="#f25252"/>
<rect x="566.0" y="786.5" width="9" height="4.3" fill="#f25252"/>
<rect x="576.0" y="786.5" width="9" height="3.2" fill="#f25252"/>
<rect x="586.0" y="786.5" width="9" height="3.2" fill="#f25252"/>
<rect x="596.0" y="786.5" width="9" height="3.2" fill="#f25252"/>
<rect x="607.0" y="786.5" width="9" height="4.3" fill="#f25252"/>
<rect x="617.0" y="786.5" width="9" height="4.3" fill="#f25252"/>
<rect x="627.0" y="786.5" width="9" height="4.3" fill="#f25252"/>
<rect x="638.0" y="786.5" width="9" height="4.0" fill="#f25252"/>
<rect x="648.0" y="786.5" width="9" height="3.2" fill="#f25252"/>
<rect x="658.0" y="786.5" width="9" height="3.2" fill="#f25252"/>
<rect x="668.0" y="786.5" width="9" height="1.8" fill="#f25252"/>
<rect x="679.0" y="786.5" width="9" height="1.0" fill="#f25252"/>
<rect x="699.0" y="783.0" width="9" height="3.5" fill="#f25252"/>
<rect x="710.0" y="782.2" width="9" height="4.3" fill="#f25252"/>
<rect x="720.0" y="781.0" width="9" height="5.5" fill="#f25252"/>
<rect x="730.0" y="781.0" width="9" height="5.5" fill="#f25252"/>
<rect x="740.0" y="782.2" width="9" height="4.3" fill="#f25252"/>
<rect x="751.0" y="783.0" width="9" height="3.5" fill="#f25252"/>
<rect x="761.0" y="784.0" width="9" height="2.5" fill="#f25252"/>
<rect x="771.0" y="785.0" width="9" height="1.5" fill="#f25252"/>
<rect x="782.0" y="785.5" width="9" height="1.0" fill="#f25252"/>
<rect x="792.0" y="785.5" width="9" height="1.0" fill="#f25252"/>
<rect x="812.0" y="785.5" width="9" height="1.0" fill="#f25252"/>
<rect x="823.0" y="784.0" width="9" height="2.5" fill="#f25252"/>
<rect x="833.0" y="783.0" width="9" height="3.5" fill="#f25252"/>
<rect x="843.0" y="782.2" width="9" height="4.3" fill="#f25252"/>
<rect x="854.0" y="781.0" width="9" height="5.5" fill="#f25252"/>
<rect x="864.0" y="778.0" width="9" height="8.5" fill="#f25252"/>
<rect x="874.0" y="775.2" width="9" height="11.3" fill="#f25252"/>
<rect x="884.0" y="775.2" width="9" height="11.3" fill="#f25252"/>
<rect x="895.0" y="776.0" width="9" height="10.5" fill="#f25252"/>
<rect x="905.0" y="777.2" width="9" height="9.3" fill="#f25252"/>
<rect x="915.0" y="776.0" width="9" height="10.5" fill="#f25252"/>
<rect x="926.0" y="776.0" width="9" height="10.5" fill="#f25252"/>
<rect x="936.0" y="777.2" width="9" height="9.3" fill="#f25252"/>
<rect x="946.0" y="781.0" width="9" height="5.5" fill="#f25252"/>
<rect x="956.0" y="784.0" width="9" height="2.5" fill="#f25252"/>
<rect x="967.0" y="786.5" width="9" height="3.2" fill="#f25252"/>
<rect x="977.0" y="786.5" width="9" height="8.2" fill="#f25252"/>
<rect x="987.0" y="786.5" width="9" height="9.8" fill="#f25252"/>
<rect x="998.0" y="786.5" width="9" height="9.0" fill="#f25252"/>
<rect x="1008.0" y="786.5" width="9" height="8.2" fill="#f25252"/>
<rect x="1018.0" y="786.5" width="9" height="9.0" fill="#f25252"/>
<rect x="1028.0" y="786.5" width="9" height="9.0" fill="#f25252"/>
<rect x="1039.0" y="786.5" width="9" height="9.0" fill="#f25252"/>
<rect x="1049.0" y="786.5" width="9" height="9.0" fill="#f25252"/>
<rect x="1059.0" y="786.5" width="9" height="9.0" fill="#f25252"/>
<rect x="1070.0" y="786.5" width="9" height="9.8" fill="#f25252"/>
<rect x="1080.0" y="786.5" width="9" height="9.8" fill="#f25252"/>
<rect x="1090.0" y="786.5" width="9" height="9.0" fill="#f25252"/>
<rect x="1100.0" y="786.5" width="9" height="8.2" fill="#f25252"/>
<rect x="1111.0" y="786.5" width="9" height="6.8" fill="#f25252"/>
<rect x="1121.0" y="786.5" width="9" height="4.8" fill="#f25252"/>
<rect x="1131.0" y="786.5" width="9" height="1.8" fill="#f25252"/>
<rect x="1152.0" y="786.5" width="9" height="1.0" fill="#f25252"/>
<rect x="1162.0" y="786.5" width="9" height="1.0" fill="#f25252"/>
<rect x="1172.0" y="786.5" width="9" height="1.0" fill="#f25252"/>
<rect x="1193.0" y="786.5" width="9" height="1.0" fill="#f25252"/>
<rect x="1203.0" y="786.5" width="9" height="1.8" fill="#f25252"/>
<rect x="1214.0" y="786.5" width="9" height="3.2" fill="#f25252"/>
<rect x="1224.0" y="786.5" width="9" height="3.2" fill="#f25252"/>
<rect x="1234.0" y="786.5" width="9" height="4.0" fill="#f25252"/>
<rect x="1244.0" y="786.5" width="9" height="6.2" fill="#f25252"/>
<polyline points="5.0,802.7 33.3,798.3 66.7,797.2 98.3,797.7 125.0,793.8 150.0,789.3 175.0,784.7 208.3,781.3 250.0,778.8 320.0,779.7 370.0,776.3 403.3,772.7 440.0,768.8 470.0,766.3 495.0,764.7 511.7,764.7 536.7,766.3 561.7,768.8 603.3,772.2 640.0,774.7 690.0,777.2 733.3,771.3 776.7,767.2 816.7,766.3 848.3,763.3 870.0,759.3 890.0,752.2 913.3,747.2 940.0,738.0 960.0,736.3 1003.3,744.7 1043.3,752.2 1076.7,759.7 1116.7,767.2 1143.3,768.8 1176.7,768.0 1210.0,768.8 1250.0,772.2" fill="none" stroke="#ef5350" stroke-width="2" stroke-linejoin="round"/>
<polyline points="5.0,795.0 25.0,794.3 46.7,795.5 66.7,797.7 88.3,798.8 98.3,797.2 108.3,790.5 130.0,785.5 150.0,784.3 180.0,779.3 200.0,777.2 250.0,777.2 270.0,779.3 300.0,780.5 320.0,779.3 345.0,776.3 373.3,774.3 386.7,771.0 406.7,770.0 436.7,763.0 456.7,764.3 470.0,763.0 500.0,763.0 520.0,766.3 553.3,773.0 590.0,773.3 613.3,776.3 640.0,778.3 663.3,780.0 690.0,776.7 705.0,771.3 736.7,765.0 776.7,764.3 790.0,765.5 816.7,765.0 840.0,760.5 860.0,755.5 880.0,743.3 910.0,736.7 933.3,729.3 941.7,728.3 960.0,733.0 981.7,747.2 993.3,751.7 1003.3,752.2 1035.0,759.7 1063.3,765.5 1076.7,770.0 1093.3,772.2 1116.7,774.3 1133.3,771.3 1146.7,768.0 1165.0,766.8 1201.7,768.8 1226.7,773.3 1240.0,775.0 1250.0,777.7" fill="none" stroke="#3c3ce6" stroke-width="2" stroke-linejoin="round"/>
<polyline points="5.0,843.3 15.0,849.2 26.7,859.2 36.7,876.7 46.7,893.3 56.7,907.5 67.5,909.7 78.3,907.5 87.5,907.5 98.3,898.3 108.3,873.3 118.3,857.5 128.3,853.7 139.2,869.2 150.0,873.3 160.0,874.2 170.0,870.8 180.8,864.2 190.8,856.3 200.0,855.0 211.7,858.0 221.7,862.5 231.7,862.5 241.7,865.0 251.7,871.7 262.5,881.7 272.5,881.7 283.3,876.3 293.3,875.0 303.3,879.7 313.3,877.5 324.2,862.5 334.2,840.8 344.7,834.2 354.7,836.7 365.0,836.7 375.0,831.7 385.3,824.2 395.8,830.8 406.3,839.7 416.7,840.3 427.5,838.3 437.5,832.0 447.5,839.2 457.5,844.7 468.3,843.3 478.3,841.3 489.2,837.0 499.2,838.0 509.2,840.8 519.2,850.0 529.2,859.2 540.0,865.8 550.0,871.7 560.8,878.0 570.8,874.2 580.8,864.2 591.3,852.0 601.7,860.8 612.5,870.3 622.5,883.3 632.5,885.3 643.3,877.5 653.3,861.7 663.3,856.7 673.3,843.3 684.2,840.8 694.2,828.0 705.0,832.5 715.0,839.7 725.8,843.3 735.8,847.0 745.8,845.3 756.7,846.7 766.7,848.3 776.7,848.7 787.5,847.5 797.5,847.0 807.5,846.7 817.5,836.7 827.5,829.2 838.3,822.0 848.3,824.2 859.2,826.3 869.2,826.7 879.2,823.3 890.0,831.7 900.0,839.7 910.3,847.5 920.8,841.3 930.8,838.3 941.7,834.7 951.7,839.7 960.0,845.3 970.8,858.3 981.7,871.7 992.5,883.3 1003.0,879.7 1013.3,871.3 1023.3,868.3 1034.2,872.5 1044.2,873.0 1054.2,874.2 1064.2,873.0 1075.0,876.3 1085.0,873.0 1095.0,870.0 1105.0,861.7 1115.8,857.5 1126.7,850.0 1137.0,838.7 1147.5,828.0 1157.5,832.5 1167.5,841.3 1177.5,853.3 1188.3,853.3 1198.3,855.0 1208.3,855.0 1219.2,861.3 1229.2,865.3 1239.7,867.0 1250.0,880.0" fill="none" stroke="#4e44dc" stroke-width="2" stroke-linejoin="round"/>
<polyline points="5.0,843.0 15.0,844.2 26.7,850.0 36.7,860.8 46.7,876.7 56.7,892.5 67.5,903.3 77.5,908.3 87.5,908.3 98.3,904.7 108.3,892.5 118.3,875.0 128.3,861.7 139.2,860.0 150.0,865.8 160.0,872.5 170.8,873.3 180.8,870.0 190.8,864.2 200.8,858.3 211.7,855.8 221.7,858.3 231.7,860.8 241.7,863.0 252.5,865.8 262.5,873.3 273.3,878.3 283.3,880.8 293.3,876.7 303.3,877.5 313.3,877.5 324.2,873.3 334.2,860.0 344.7,846.3 354.7,838.0 365.0,836.7 375.0,834.7 385.3,830.8 395.8,829.2 406.3,831.3 416.7,836.3 427.5,839.2 437.5,837.0 447.5,837.5 457.5,839.7 468.3,842.5 478.3,844.2 489.2,841.7 499.2,839.7 509.2,839.7 519.2,844.2 529.2,851.7 540.0,860.0 550.0,866.7 560.8,872.5 570.8,874.2 580.8,872.5 591.3,863.3 601.7,859.2 612.5,860.0 622.5,872.5 632.5,879.2 643.3,882.5 653.3,874.2 663.3,865.0 673.3,853.3 684.2,847.5 694.2,839.2 705.0,834.7 715.0,833.3 725.8,839.2 735.8,843.7 745.8,845.3 756.7,847.0 766.7,847.5 776.7,847.5 787.5,848.3 797.5,847.5 807.5,847.0 817.5,842.5 827.5,836.7 838.3,829.2 848.3,825.3 859.2,824.2 869.2,824.7 879.2,825.3 890.0,827.5 900.0,831.3 910.3,839.7 920.8,842.0 930.8,842.0 941.7,838.7 951.7,836.7 960.0,839.7 970.8,848.3 981.7,858.7 992.5,871.3 1003.0,878.0 1013.3,877.5 1023.3,873.3 1034.2,870.3 1044.2,871.3 1054.2,873.0 1064.2,873.0 1075.0,874.2 1085.0,874.2 1095.0,872.5 1105.0,868.0 1115.8,863.0 1126.7,855.8 1137.0,848.7 1147.5,840.0 1157.5,833.3 1167.5,834.7 1177.5,842.5 1188.3,849.2 1198.3,854.2 1208.3,854.2 1219.2,857.5 1229.2,861.7 1239.7,864.2 1250.0,870.8" fill="none" stroke="#e2485a" stroke-width="2" stroke-linejoin="round"/>
<polyline points="5.0,951.0 15.8,959.3 25.8,958.3 36.3,969.3 46.7,974.3 56.7,987.2 66.7,984.3 76.7,977.2 87.5,976.0 97.5,974.7 108.3,947.2 118.3,944.7 128.3,949.3 139.2,949.3 149.2,951.3 160.0,947.7 170.0,945.0 180.8,943.0 190.8,942.2 200.8,942.2 210.8,942.2 221.7,945.5 231.7,944.3 241.7,947.7 251.7,964.7 262.5,986.3 272.5,980.0 283.3,968.0 293.3,965.5 303.3,959.3 313.3,960.5 325.0,953.8 334.2,952.2 344.7,973.3 355.0,979.3 365.0,968.0 375.0,963.0 385.3,951.3 395.8,958.3 406.3,965.5 416.7,961.0 427.5,956.3 437.5,956.7 447.5,959.7 457.5,962.2 468.3,962.2 478.3,962.2 489.2,956.0 499.2,951.3 509.2,957.2 519.2,960.5 529.2,973.3 540.0,967.7 550.0,963.3 560.3,966.7 570.8,985.5 580.8,982.2 591.3,977.2 601.7,975.5 611.7,981.0 622.5,985.5 632.5,985.5 643.3,991.3 653.3,979.3 663.3,980.5 673.3,956.3 684.2,949.3 694.2,936.7 705.0,931.3 715.8,930.5 725.8,937.2 735.8,937.7 745.0,936.3 756.7,941.3 766.7,940.0 776.7,938.8 787.5,938.8 797.5,938.8 807.5,938.8 817.5,938.0 827.5,938.0 838.3,938.3 848.3,940.5 859.2,944.7 869.2,933.3 879.2,932.2 889.5,930.0 900.0,939.7 910.0,944.3 920.8,941.3 930.8,948.0 941.7,949.3 951.7,952.7 960.0,958.0 971.7,965.5 981.7,971.0 992.5,977.2 1003.0,971.3 1013.3,972.2 1023.3,976.3 1033.3,989.3 1044.2,984.3 1054.2,984.3 1064.2,994.3 1075.0,991.3 1085.0,991.3 1095.8,984.3 1105.8,982.2 1115.8,976.3 1126.7,966.3 1136.3,957.7 1146.7,960.5 1157.5,962.7 1167.5,962.7 1177.5,953.3 1188.0,954.3 1198.7,950.5 1208.3,952.7 1219.2,952.7 1228.7,952.7 1239.7,955.5 1250.0,968.8" fill="none" stroke="#5c8dd6" stroke-width="2" stroke-linejoin="round"/>
<rect x="0" y="0" width="1920" height="1" fill="#e0e3eb"/>
<rect x="0" y="550" width="1920" height="1" fill="#55575c"/>
<rect x="0" y="606" width="1920" height="1" fill="#55575c"/>
<rect x="0" y="718" width="1920" height="1" fill="#55575c"/>
<rect x="0" y="810" width="1920" height="1" fill="#55575c"/>
<rect x="0" y="919" width="1920" height="1" fill="#55575c"/>
<rect x="0" y="1015" width="1920" height="1" fill="#55575c"/>
<rect x="0" y="1041" width="1920" height="1" fill="#e0e3eb"/>
<rect x="1864" y="1" width="1" height="1040" fill="#55575c"/>
<rect x="1865" y="601.0" width="4" height="1" fill="#55575c"/>
<text x="1873.0" y="605.8" font-size="11.5" fill="#4f525b" textLength="5.7" lengthAdjust="spacingAndGlyphs">0</text>
<rect x="1865" y="633.0" width="4" height="1" fill="#55575c"/>
<text x="1873.0" y="637.8" font-size="11.5" fill="#4f525b" textLength="38.7" lengthAdjust="spacingAndGlyphs">80.0000</text>
<rect x="1865" y="663.0" width="4" height="1" fill="#55575c"/>
<text x="1873.0" y="667.8" font-size="11.5" fill="#4f525b" textLength="38.7" lengthAdjust="spacingAndGlyphs">60.0000</text>
<rect x="1865" y="693.0" width="4" height="1" fill="#55575c"/>
<text x="1873.0" y="697.8" font-size="11.5" fill="#4f525b" textLength="38.7" lengthAdjust="spacingAndGlyphs">40.0000</text>
<rect x="1865" y="743.0" width="4" height="1" fill="#55575c"/>
<text x="1873.0" y="747.8" font-size="11.5" fill="#4f525b" textLength="32.0" lengthAdjust="spacingAndGlyphs">0.5000</text>
<rect x="1865" y="786.0" width="4" height="1" fill="#55575c"/>
<text x="1873.0" y="790.8" font-size="11.5" fill="#4f525b" textLength="32.0" lengthAdjust="spacingAndGlyphs">0.0000</text>
<rect x="1865" y="839.0" width="4" height="1" fill="#55575c"/>
<text x="1873.0" y="843.8" font-size="11.5" fill="#4f525b" textLength="38.7" lengthAdjust="spacingAndGlyphs">80.0000</text>
<rect x="1865" y="876.0" width="4" height="1" fill="#55575c"/>
<text x="1873.0" y="880.8" font-size="11.5" fill="#4f525b" textLength="38.7" lengthAdjust="spacingAndGlyphs">40.0000</text>
<rect x="1865" y="912.0" width="4" height="1" fill="#55575c"/>
<text x="1873.0" y="916.8" font-size="11.5" fill="#4f525b" textLength="32.0" lengthAdjust="spacingAndGlyphs">0.0000</text>
<rect x="1865" y="945.0" width="4" height="1" fill="#55575c"/>
<text x="1873.0" y="949.8" font-size="11.5" fill="#4f525b" textLength="38.7" lengthAdjust="spacingAndGlyphs">80.0000</text>
<rect x="1865" y="986.0" width="4" height="1" fill="#55575c"/>
<text x="1873.0" y="990.8" font-size="11.5" fill="#4f525b" textLength="38.7" lengthAdjust="spacingAndGlyphs">40.0000</text>
<rect x="1865" y="234.2" width="38" height="16.5" fill="#ef5350"/>
<rect x="1865" y="242.0" width="4" height="1" fill="#fff"/>
<text x="1872.7" y="246.7" font-size="11.5" fill="#fff" textLength="21.6" lengthAdjust="spacingAndGlyphs" font-weight="bold">7.10</text>
<rect x="1865" y="303.2" width="38" height="16.5" fill="#ff0000"/>
<rect x="1865" y="311.0" width="4" height="1" fill="#fff"/>
<text x="1872.7" y="315.7" font-size="11.5" fill="#fff" textLength="21.6" lengthAdjust="spacingAndGlyphs" font-weight="bold">6.45</text>
<rect x="1865" y="462.2" width="38" height="16.5" fill="#ff0000"/>
<rect x="1865" y="470.0" width="4" height="1" fill="#fff"/>
<text x="1872.7" y="474.7" font-size="11.5" fill="#fff" textLength="21.6" lengthAdjust="spacingAndGlyphs" font-weight="bold">4.95</text>
<rect x="88.0" y="1016" width="1" height="3" fill="#55575c"/>
<text x="78.8" y="1034.3" font-size="12.0" fill="#4f525b" textLength="19.5" lengthAdjust="spacingAndGlyphs">May</text>
<rect x="171.0" y="1016" width="1" height="3" fill="#55575c"/>
<text x="166.0" y="1034.3" font-size="12.0" fill="#4f525b" textLength="11.0" lengthAdjust="spacingAndGlyphs">15</text>
<rect x="284.0" y="1016" width="1" height="3" fill="#55575c"/>
<text x="275.5" y="1034.3" font-size="12.0" fill="#4f525b" textLength="18.0" lengthAdjust="spacingAndGlyphs">Jun</text>
<rect x="366.0" y="1016" width="1" height="3" fill="#55575c"/>
<text x="361.0" y="1034.3" font-size="12.0" fill="#4f525b" textLength="11.0" lengthAdjust="spacingAndGlyphs">12</text>
<rect x="489.0" y="1016" width="1" height="3" fill="#55575c"/>
<text x="482.0" y="1034.3" font-size="12.0" fill="#4f525b" textLength="15.0" lengthAdjust="spacingAndGlyphs">Jul</text>
<rect x="572.0" y="1016" width="1" height="3" fill="#55575c"/>
<text x="567.0" y="1034.3" font-size="12.0" fill="#4f525b" textLength="11.0" lengthAdjust="spacingAndGlyphs">13</text>
<rect x="726.0" y="1016" width="1" height="3" fill="#55575c"/>
<text x="716.8" y="1034.3" font-size="12.0" fill="#4f525b" textLength="19.5" lengthAdjust="spacingAndGlyphs">Aug</text>
<rect x="808.0" y="1016" width="1" height="3" fill="#55575c"/>
<text x="803.0" y="1034.3" font-size="12.0" fill="#4f525b" textLength="11.0" lengthAdjust="spacingAndGlyphs">14</text>
<rect x="932.0" y="1016" width="1" height="3" fill="#55575c"/>
<text x="923.0" y="1034.3" font-size="12.0" fill="#4f525b" textLength="19.0" lengthAdjust="spacingAndGlyphs">Sep</text>
<rect x="1014.0" y="1016" width="1" height="3" fill="#55575c"/>
<text x="1009.5" y="1034.3" font-size="12.0" fill="#4f525b" textLength="10.0" lengthAdjust="spacingAndGlyphs">11</text>
<rect x="1158.0" y="1016" width="1" height="3" fill="#55575c"/>
<text x="1149.0" y="1034.3" font-size="12.0" fill="#4f525b" textLength="19.0" lengthAdjust="spacingAndGlyphs">Oct</text>
<rect x="1240.0" y="1016" width="1" height="3" fill="#55575c"/>
<text x="1235.0" y="1034.3" font-size="12.0" fill="#4f525b" textLength="11.0" lengthAdjust="spacingAndGlyphs">13</text>
<rect x="1394.0" y="1016" width="1" height="3" fill="#55575c"/>
<text x="1384.5" y="1034.3" font-size="12.0" fill="#4f525b" textLength="20.0" lengthAdjust="spacingAndGlyphs">Nov</text>
<rect x="1477.0" y="1016" width="1" height="3" fill="#55575c"/>
<text x="1472.0" y="1034.3" font-size="12.0" fill="#4f525b" textLength="11.0" lengthAdjust="spacingAndGlyphs">12</text>
<rect x="1610.0" y="1016" width="1" height="3" fill="#55575c"/>
<text x="1600.8" y="1034.3" font-size="12.0" fill="#4f525b" textLength="19.5" lengthAdjust="spacingAndGlyphs">Dec</text>
<g transform="translate(1891.4,1029.4)" stroke="#131722" fill="none" stroke-width="1.3" stroke-linecap="round">
<circle r="4.9"/>
<line x1="4.90" y1="0.00" x2="7.40" y2="0.00"/>
<line x1="3.46" y1="3.46" x2="4.88" y2="4.88"/>
<line x1="0.00" y1="4.90" x2="0.00" y2="7.40"/>
<line x1="-3.46" y1="3.46" x2="-4.88" y2="4.88"/>
<line x1="-4.90" y1="0.00" x2="-7.40" y2="0.00"/>
<line x1="-3.46" y1="-3.46" x2="-4.88" y2="-4.88"/>
<line x1="-0.00" y1="-4.90" x2="-0.00" y2="-7.40"/>
<line x1="3.46" y1="-3.46" x2="4.88" y2="-4.88"/>
</g>
<text x="16.6" y="1065.8" font-size="13.5" fill="#131722" textLength="70.0" lengthAdjust="spacingAndGlyphs">Date Range</text>
<polyline points="93.3,1059.2 97,1062.8 100.7,1059.2" fill="none" stroke="#434651" stroke-width="1.2"/>
<text x="1679.6" y="1065.8" font-size="13.5" fill="#131722" textLength="107.0" lengthAdjust="spacingAndGlyphs">18:05:15 (UTC+2)</text>
<rect x="1803" y="1050" width="1" height="21.5" fill="#e0e3eb"/>
<text x="1820.9" y="1065.8" font-size="13.5" fill="#131722" textLength="12.1" lengthAdjust="spacingAndGlyphs">%</text>
<text x="1848.9" y="1065.8" font-size="13.5" fill="#131722" textLength="18.0" lengthAdjust="spacingAndGlyphs">log</text>
<text x="1881.4" y="1065.8" font-size="13.5" fill="#131722" textLength="27.5" lengthAdjust="spacingAndGlyphs">auto</text>
<text x="9.6" y="22.7" font-size="14.5" fill="#131722" textLength="102.7" lengthAdjust="spacingAndGlyphs" xml:space="preserve">DLKV <tspan fill="#9598a1">·</tspan> 1D <tspan fill="#9598a1">·</tspan> ZSE</text>
<text x="122.5" y="23" font-size="12.5" fill="#50535e" xml:space="preserve" textLength="245" lengthAdjust="spacingAndGlyphs">O<tspan fill="#ef5350">7.44</tspan>  H<tspan fill="#ef5350">7.44</tspan>  L<tspan fill="#ef5350">6.98</tspan>  C<tspan fill="#ef5350">7.10</tspan>  <tspan fill="#ef5350">−0.40 (−5.33%)</tspan></text>
<rect x="8.5" y="31.5" width="33" height="20" rx="2" fill="#fff" stroke="#d9dbe0" stroke-width="1"/>
<polyline points="16.2,37.8 19.6,41.5 16.2,45.2" fill="none" stroke="#131722" stroke-width="1.4"/>
<text x="27.8" y="46.0" font-size="13.0" fill="#131722" textLength="7.0" lengthAdjust="spacingAndGlyphs">6</text>
<rect x="8.5" y="557.5" width="20" height="20" rx="2" fill="#fff" stroke="#d9dbe0" stroke-width="1"/>
<polyline points="16.6,563.8 20,567.5 16.6,571.2" fill="none" stroke="#131722" stroke-width="1.4"/>
<rect x="8.5" y="613.5" width="20" height="20" rx="2" fill="#fff" stroke="#d9dbe0" stroke-width="1"/>
<polyline points="16.6,619.8 20,623.5 16.6,627.2" fill="none" stroke="#131722" stroke-width="1.4"/>
<rect x="8.5" y="725.5" width="20" height="20" rx="2" fill="#fff" stroke="#d9dbe0" stroke-width="1"/>
<polyline points="16.6,731.8 20,735.5 16.6,739.2" fill="none" stroke="#131722" stroke-width="1.4"/>
<rect x="8.5" y="817.5" width="20" height="20" rx="2" fill="#fff" stroke="#d9dbe0" stroke-width="1"/>
<polyline points="16.6,823.8 20,827.5 16.6,831.2" fill="none" stroke="#131722" stroke-width="1.4"/>
<rect x="8.5" y="926.5" width="20" height="20" rx="2" fill="#fff" stroke="#d9dbe0" stroke-width="1"/>
<polyline points="16.6,932.8 20,936.5 16.6,940.2" fill="none" stroke="#131722" stroke-width="1.4"/>
<circle cx="24.3" cy="985" r="15.6" fill="#fff" stroke="#e6e1e6" stroke-width="1"/>
<g fill="#2ea2e6"><circle cx="17.6" cy="986.6" r="3.6"/><circle cx="22.8" cy="983.3" r="5.3"/><circle cx="31" cy="985.6" r="4.3"/><rect x="14" y="986" width="21.3" height="4.8" rx="2.4"/></g>
<polyline points="14.6,989.2 21.6,983 27.2,988.2 33.6,981.8" fill="none" stroke="#fff" stroke-width="1.5" stroke-linejoin="round"/>
<circle cx="21.6" cy="983" r="1.5" fill="#fff"/><circle cx="27.2" cy="988.2" r="1.3" fill="#fff"/>
<rect x="901.5" y="-3" width="124.5" height="19" rx="3" fill="#fff" stroke="#e0e3eb" stroke-width="1"/>
<text x="906.2" y="12.0" font-size="11.5" fill="#b2b5be" textLength="110.0" lengthAdjust="spacingAndGlyphs">Exit Full Screen (ESC)</text>
<circle cx="1775" cy="19" r="3" fill="#9b9b9b"/>
<text x="1782.5" y="23.2" font-size="12.0" fill="#a8a8a8" textLength="75.0" lengthAdjust="spacingAndGlyphs">Market Closed</text>
</svg>
</body></html>
